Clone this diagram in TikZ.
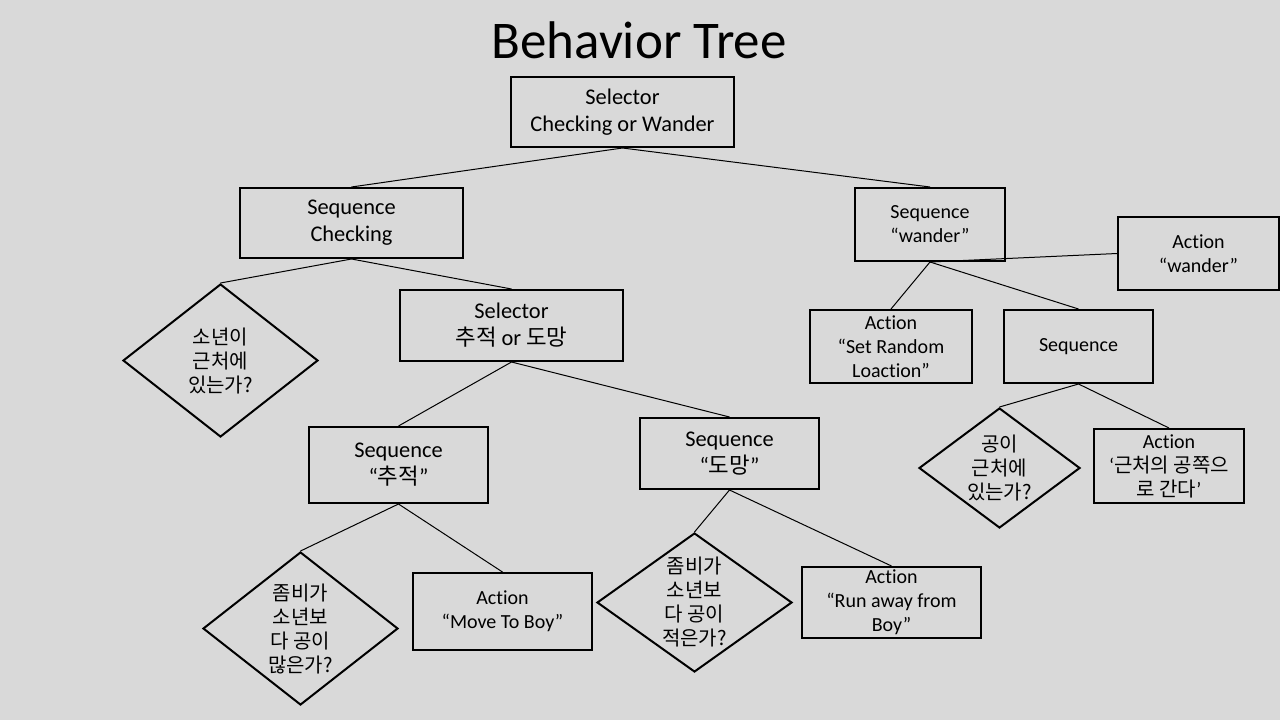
\documentclass[tikz,border=0pt]{standalone}
\usepackage{fontspec}
\setmainfont{Carlito}[Ligatures=NoCommon]
\newfontfamily\kr{Noto Sans CJK KR}
\usetikzlibrary{shapes.geometric}
\definecolor{slidebg}{HTML}{D9D9D9}
\tikzset{
	bigtext/.style={font=\fontsize{22.4}{27}\selectfont},
	smalltext/.style={font=\fontsize{20}{24}\selectfont},
	tbox/.style={draw, rectangle, line width=2pt, inner sep=0pt, align=center},
	tcond/.style={draw, diamond, line width=2pt, inner sep=-12pt, align=center, smalltext},
	tlink/.style={line width=1pt}
}
\begin{document}
\begin{tikzpicture}[x=1pt, y=-1pt]
	\useasboundingbox (0,0) rectangle (1280,720);
	\fill[slidebg] (0,0) rectangle (1280,720);
	\node (title) at (639,58) [anchor=base, font=\fontsize{53}{63}\selectfont] {Behavior Tree};
	% root and left branch
	\node (root) at (622.5,112) [tbox, bigtext, minimum width=223pt, minimum height=70pt] {Selector\\Checking or Wander};
	\node (chk) at (351.5,223) [tbox, bigtext, minimum width=223pt, minimum height=70pt] {Sequence\\Checking};
	\node (boynear) at (220.5,360.5) [tcond, minimum width=195pt, minimum height=153pt] {{\kr 소년이}\\{\kr 근처에}\\{\kr 있는가?}};
	\node (sel) at (511.5,325.5) [tbox, bigtext, minimum width=223pt, minimum height=71pt] {Selector\\{\kr 추적} or {\kr 도망}};
	\node (chase) at (398.5,465) [tbox, bigtext, minimum width=179pt, minimum height=76pt] {Sequence\\“{\kr 추적}”};
	\node (flee) at (729.5,453.5) [tbox, bigtext, minimum width=179pt, minimum height=71pt] {Sequence\\“{\kr 도망}”};
	\node (more) at (300.5,628.5) [tcond, minimum width=195pt, minimum height=153pt] {{\kr 좀비가}\\{\kr 소년보}\\{\kr 다 공이}\\{\kr 많은가?}};
	\node (move) at (502.5,611.5) [tbox, smalltext, minimum width=179pt, minimum height=77pt] {Action\\“Move To Boy”};
	\node (less) at (694.5,602.5) [tcond, minimum width=195pt, minimum height=139pt] {{\kr 좀비가}\\{\kr 소년보}\\{\kr 다 공이}\\{\kr 적은가?}};
	\node (run) at (891.5,602.5) [tbox, smalltext, minimum width=179pt, minimum height=71pt] {Action\\“Run away from\\Boy”};
	% right branch
	\node (wan) at (930,224.5) [tbox, smalltext, minimum width=150pt, minimum height=73pt] {Sequence\\“wander”};
	\node (actwan) at (1198.5,253.5) [tbox, smalltext, minimum width=161pt, minimum height=73pt] {Action\\“wander”};
	\node (setrnd) at (891,346.5) [tbox, smalltext, minimum width=162pt, minimum height=73pt] {Action\\“Set Random\\Loaction”};
	\node (seqr) at (1078.5,346.5) [tbox, smalltext, minimum width=149pt, minimum height=73pt] {Sequence};
	\node (ballnear) at (999.5,468) [tcond, minimum width=161pt, minimum height=120pt] {{\kr 공이}\\{\kr 근처에}\\{\kr 있는가?}};
	\node (goball) at (1169,466) [tbox, smalltext, minimum width=150pt, minimum height=74pt] {Action\\‘{\kr 근처의 공쪽으}\\{\kr 로 간다}’};
	% connectors
	\draw[tlink] (root.south) -- (chk.north);
	\draw[tlink] (root.south) -- (wan.north);
	\draw[tlink] (chk.south) -- (boynear.north);
	\draw[tlink] (chk.south) -- (sel.north);
	\draw[tlink] (sel.south) -- (chase.north);
	\draw[tlink] (sel.south) -- (flee.north);
	\draw[tlink] (chase.south) -- (more.north);
	\draw[tlink] (chase.south) -- (move.north);
	\draw[tlink] (flee.south) -- (less.north);
	\draw[tlink] (flee.south) -- (run.north);
	\draw[tlink] (wan.south) -- (actwan.west);
	\draw[tlink] (wan.south) -- (setrnd.north);
	\draw[tlink] (wan.south) -- (seqr.north);
	\draw[tlink] (seqr.south) -- (ballnear.north);
	\draw[tlink] (seqr.south) -- (goball.north);
\end{tikzpicture}
\end{document}
